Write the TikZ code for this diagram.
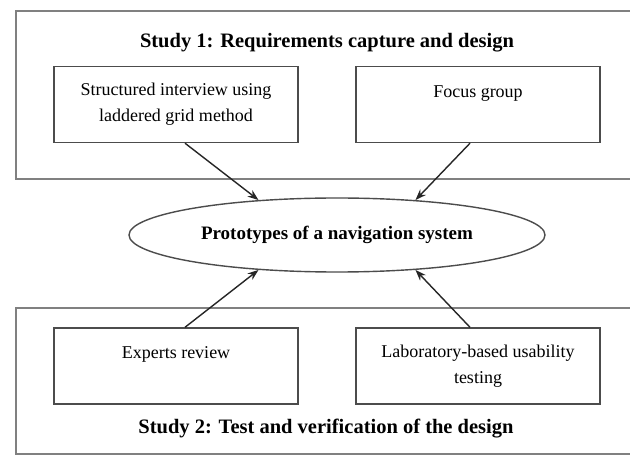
\documentclass[tikz,border=0pt]{standalone}
\usepackage{fontspec}
\setmainfont{Liberation Serif}
\usetikzlibrary{arrows.meta,shapes.geometric}
\begin{document}
\begin{tikzpicture}[x=1pt,y=-1pt,
  frame/.style={draw=black!50,line width=1.8pt,minimum width=624pt,inner sep=0pt},
  stepbox/.style={draw=black!70,line width=1.4pt,minimum width=244pt,minimum height=76pt,inner sep=0pt,align=center,font=\fontsize{18}{26}\selectfont},
  ttl/.style={font=\bfseries\fontsize{20.5}{24}\selectfont},
  arr/.style={draw=black!85,line width=1.4pt,-{Stealth[length=11pt,width=8pt]}}]
\useasboundingbox (0,0) rectangle (630,457);
\fill[white] (0,0) rectangle (630,457);
\clip (0,0) rectangle (630,457);
\node[frame,minimum height=168pt] (S1) at (328,95) {};
\node[frame,minimum height=146pt] (S2) at (328,381) {};
\node[ttl] (T1) at (327,43) {Study 1: Requirements capture and design};
\node[ttl] (T2) at (326,429) {Study 2: Test and verification of the design};
\node[stepbox] (A) at (176,104.5) {Structured interview using\\laddered grid method};
\node[stepbox] (B) at (478,104.5) {Focus group\\\mbox{}};
\node[stepbox] (C) at (176,366) {Experts review\\\mbox{}};
\node[stepbox] (D) at (478,366) {Laboratory-based usability\\testing};
\node[ellipse,draw=black!70,line width=1.4pt,minimum width=416pt,minimum height=74pt,inner sep=0pt,font=\bfseries\fontsize{19}{22}\selectfont] (E) at (337,235) {Prototypes of a navigation system};
\draw[arr] ([xshift=9pt]A.south) -- (E.156);
\draw[arr] ([xshift=-8pt]B.south) -- (E.24);
\draw[arr] ([xshift=9pt]C.north) -- (E.204);
\draw[arr] ([xshift=-8pt]D.north) -- (E.336);
\end{tikzpicture}
\end{document}
